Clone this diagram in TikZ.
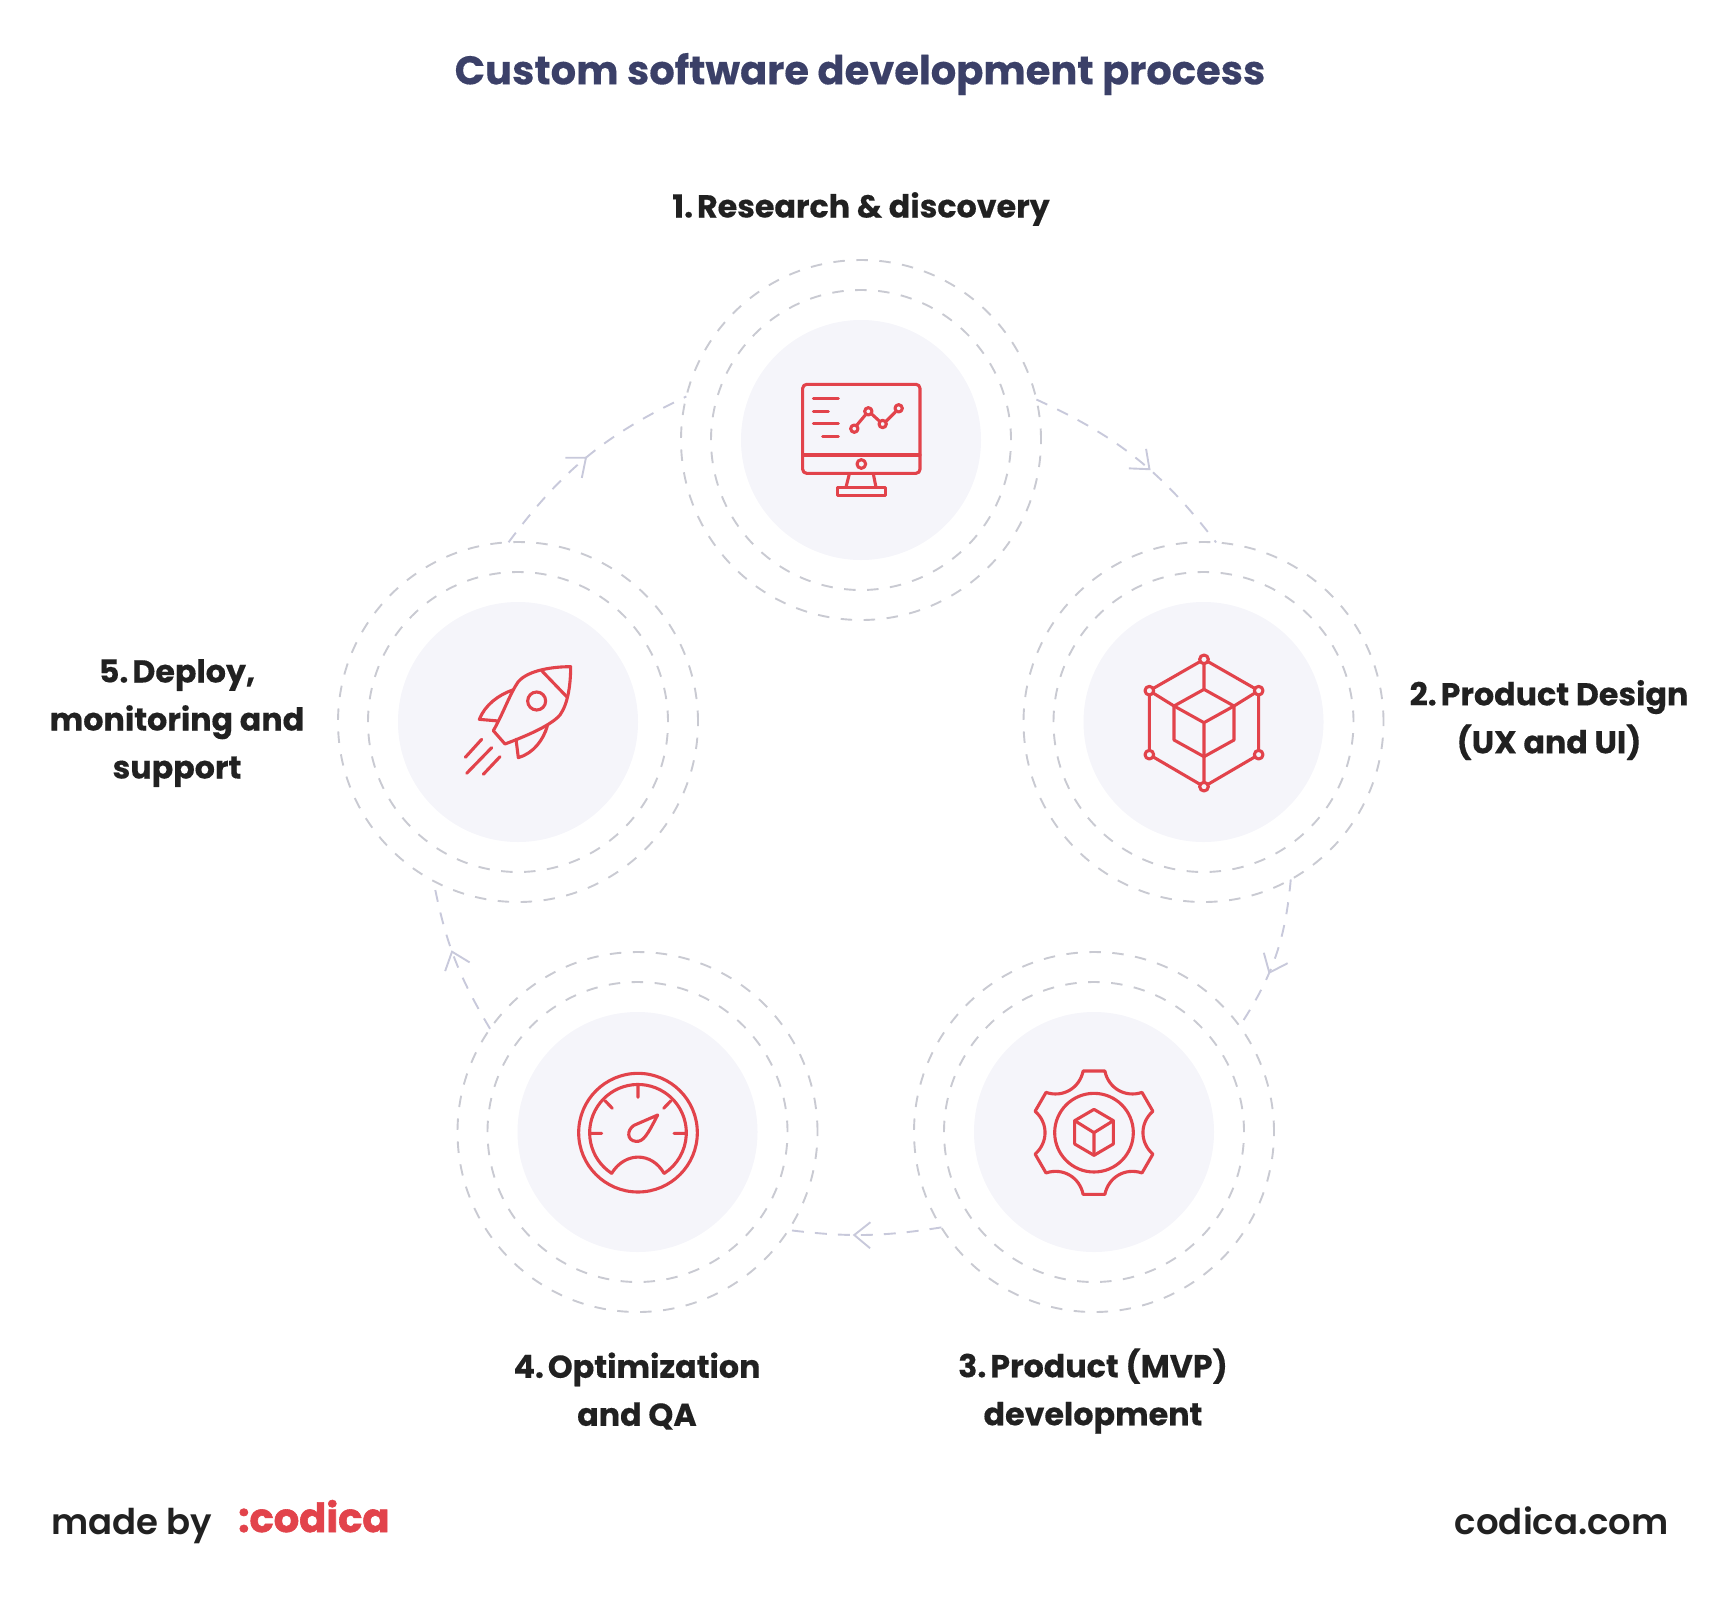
\documentclass[tikz,border=0pt]{standalone}
\usepackage{fontspec}
\usepackage{xcolor}
\usetikzlibrary{arrows.meta}
\usetikzlibrary{decorations.markings}
\setmainfont{Poppins}[BoldFeatures={FakeBold=0.3}]
\newfontfamily\logofont[FakeBold=1.5]{Poppins Bold}
\newfontfamily\footfont{Poppins SemiBold}

\definecolor{titleblue}{HTML}{3B4068}
\definecolor{textdark}{HTML}{212121}
\definecolor{iconred}{HTML}{E2434B}
\definecolor{discgrey}{HTML}{F5F5FA}
\definecolor{ringgrey}{HTML}{C9CAD2}
\definecolor{arrowgrey}{HTML}{C8C9DB}

\tikzset{
    disc/.style={circle, fill=discgrey, inner sep=0, outer sep=0, minimum size=240pt},
    ring/.style={circle, draw=ringgrey, line width=1.9pt, dash pattern=on 11.5pt off 11.5pt, inner sep=0, outer sep=0},
    stage/.style={font=\fontsize{31.7}{48}\selectfont\bfseries, text=textdark, align=center},
    foot/.style={font=\fontsize{35.5}{44}\footfont, text=textdark, inner sep=0},
    link/.style={draw=arrowgrey, line width=1.9pt, dash pattern=on 12pt off 11pt, postaction={decorate},
        decoration={markings, mark=at position #1 with {\arrow[arrowgrey, solid, line width=1.9pt]{Straight Barb[length=16pt, width=26pt]}}}},
    icon/.style={draw=iconred, line width=3.1pt, line join=round, line cap=round},
    iconbox/.style={shift={#1}, x=0.3333pt, y=-0.3333pt}
}

\begin{document}
\begin{tikzpicture}[x=1pt, y=-1pt]
\useasboundingbox (0,0) rectangle (1720,1596);

\node[font=\fontsize{40}{48}\selectfont\bfseries, text=titleblue] (title) at (860,74) {Custom software development process};

% stages
\node[disc] (research) at (861,440) {};
\node[ring, minimum size=300pt] (researchin) at (research) {};
\node[ring, minimum size=360pt] (researchout) at (research) {};

\node[disc] (design) at (1203.5,722) {};
\node[ring, minimum size=300pt] (designin) at (design) {};
\node[ring, minimum size=360pt] (designout) at (design) {};

\node[disc] (product) at (1094,1132) {};
\node[ring, minimum size=300pt] (productin) at (product) {};
\node[ring, minimum size=360pt] (productout) at (product) {};

\node[disc] (optimize) at (637.5,1132) {};
\node[ring, minimum size=300pt] (optimizein) at (optimize) {};
\node[ring, minimum size=360pt] (optimizeout) at (optimize) {};

\node[disc] (deploy) at (518,722) {};
\node[ring, minimum size=300pt] (deployin) at (deploy) {};
\node[ring, minimum size=360pt] (deployout) at (deploy) {};

% links
\draw[link=0.58] (researchout.13.5) to[bend left=14] (designout.86);
\draw[link=0.62] (designout.-61.5) to[bend left=14] (productout.36.5);
\draw[link=0.58] (productout.212.7) to[bend left=8] (optimizeout.-33);
\draw[link=0.55] (optimizeout.145.4) to[bend left=10] (deployout.242.3);
\draw[link=0.5] (deployout.93) to[bend left=14] (researchout.166.5);

% labels
\node[stage] (researchlabel) at (861,209) {1.\kern-5pt{} Research \& discovery};
\node[stage] (designlabel) at (1549,720) {2.\kern-5pt{} Product Design\\(UX and UI)};
\node[stage] (productlabel) at (1093,1391) {3.\kern-5pt{} Product (MVP)\\development};
\node[stage] (optimizelabel) at (637,1391) {4.\kern-5pt{} Optimization\\and QA};
\node[stage] (deploylabel) at (177,723) {5.\kern-5pt{} Deploy,\\monitoring and\\support};

% monitor
\begin{scope}[iconbox={(760,350)}]
\draw[icon, rounded corners=4pt] (128,103) rectangle (480,370);
\draw[icon] (128,315) -- (480,315);
\draw[icon] (304,342) circle (13);
\draw[icon] (268,372) -- (258,412) (340,372) -- (348,412);
\draw[icon] (232,412) rectangle (376,436);
\draw[icon] (160,146) -- (235,146) (160,184) -- (205,184) (160,221) -- (235,221) (188,259) -- (235,259);
\draw[icon] (290,226) -- (316,195) (335,192) -- (358,213) (378,214) -- (406,186);
\foreach \px/\py in {283/236, 325/184, 368/222, 416/175}
    \draw[icon] (\px,\py) circle (11);
\end{scope}

% cube
\begin{scope}[iconbox={(1120,630)}]
\draw[icon] (252,88) -- (416,182) -- (416,374) -- (252,470) -- (88,374) -- (88,182) -- cycle;
\draw[icon] (252,178) -- (342,228) -- (342,330) -- (252,380) -- (162,330) -- (162,228) -- cycle;
\draw[icon] (162,228) -- (252,278) -- (342,228) (252,278) -- (252,380);
\draw[icon] (252,88) -- (252,178) (252,380) -- (252,470) (88,182) -- (162,228) (416,182) -- (342,228);
\foreach \px/\py in {252/88, 416/182, 416/374, 252/470, 88/374, 88/182}
    \draw[icon, fill=discgrey] (\px,\py) circle (13);
\end{scope}

% gear
\begin{scope}[iconbox={(1020,1050)}]
\begin{scope}[shift={(222,248)}]
\draw[icon] (80:188) foreach \a in {0,-60,...,-300} {
    .. controls (\a+72:140) and (\a+48:140) .. (\a+40:188) -- (\a+20:188)
} -- cycle;
\draw[icon] (0,0) circle (118);
\end{scope}
\draw[icon] (222,178) -- (280,212) -- (280,282) -- (222,316) -- (164,282) -- (164,212) -- cycle;
\draw[icon] (164,212) -- (222,248) -- (280,212) (222,248) -- (222,316);
\end{scope}

% gauge
\begin{scope}[iconbox={(560,1050)}]
\draw[icon] (234,248) circle (178);
\draw[icon] (155,370) arc (123:417:145);
\draw[icon] (155,370) .. controls (195,305) and (275,305) .. (312,370);
\draw[icon] (234,108) -- (234,142) (92,250) -- (125,250) (342,250) -- (378,250) (135,152) -- (157,175) (333,152) -- (311,175);
\draw[icon] (293,195) -- (222,226) .. controls (200,240) and (200,272) .. (228,274) .. controls (250,276) and (262,255) .. cycle;
\end{scope}

% rocket
\begin{scope}[iconbox={(440,640)}]
\draw[icon] (392,80) .. controls (340,80) and (265,90) .. (235,125) .. controls (210,160) and (190,220) .. (160,272) -- (195,312) .. controls (240,295) and (330,260) .. (360,225) .. controls (385,190) and (392,130) .. cycle;
\draw[icon] (305,92) -- (380,170);
\draw[icon] (290,183) circle (27);
\draw[icon] (218,150) .. controls (175,165) and (135,195) .. (118,238) -- (175,243);
\draw[icon] (322,258) .. controls (310,300) and (280,340) .. (235,353) -- (228,298);
\draw[icon] (125,298) -- (76,352) (155,323) -- (80,400) (180,350) -- (130,403);
\end{scope}

% footer
\node[foot, anchor=base west] (madeby) at (51,1534) {made by};
\node[anchor=base west, font=\fontsize{40}{44}\logofont, text=iconred, inner sep=0] (logo) at (238,1532) {:codica};
\node[foot, anchor=base east] (site) at (1669,1534) {codica.com};
\end{tikzpicture}
\end{document}
